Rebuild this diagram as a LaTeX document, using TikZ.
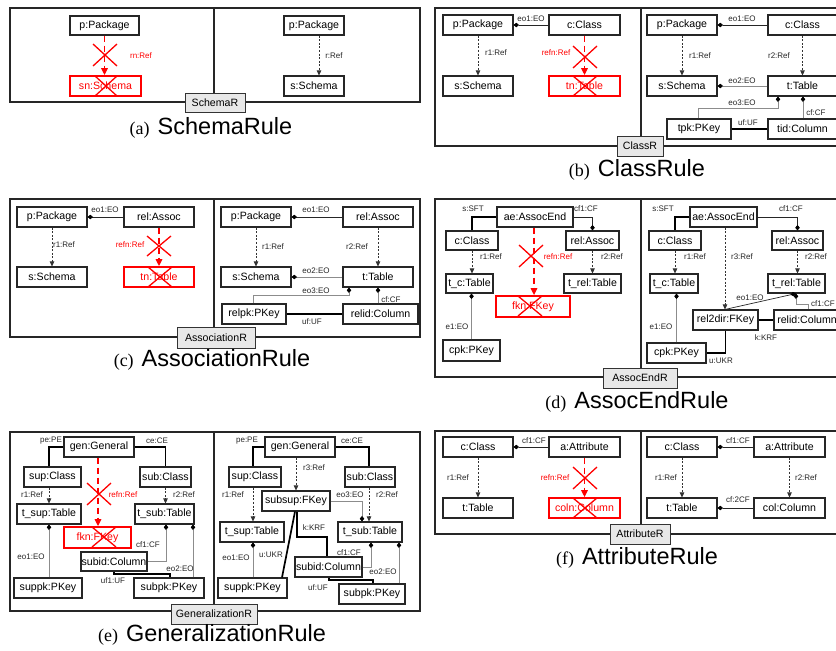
\documentclass[tikz,border=0pt]{standalone}
\usepackage{fontspec}
\setmainfont{Liberation Sans}
\newfontfamily\capserif{Liberation Serif}
\usetikzlibrary{arrows.meta}

\tikzset{
  obj/.style={draw=black!85, line width=1.1pt, fill=white, inner sep=0pt,
    font=\fontsize{10.6}{12}\selectfont},
  delobj/.style={draw=red, line width=1.8pt, text=red},
  lbl/.style={inner sep=0pt, font=\fontsize{8}{9}\selectfont, text=black!85},
  rlbl/.style={lbl, text=red},
  frame/.style={draw=black!85, line width=1.1pt},
  tab/.style={draw=black!80, line width=0.9pt, fill=black!9},
  ref/.style={draw=black!80, line width=0.7pt, dash pattern=on 2pt off 1.6pt,
    -{Triangle[length=5pt,width=4.5pt]}},
  own/.style={draw=black!85, line width=0.7pt,
    -{Diamond[length=5.5pt,width=4.5pt,color=black]}},
  gown/.style={own, draw=black!45},
  heavy/.style={draw=black, line width=1.7pt},
  delref/.style={draw=red, line width=1.5pt, dash pattern=on 6pt off 4pt,
    -{Triangle[length=7pt,width=6.5pt]}},
  xmark/.style={draw=red, line width=1.3pt},
  caption/.style={inner sep=0pt, font=\fontsize{23.5}{27}\selectfont},
}

% object box given by its corners: [style]{name}{x1}{y1}{x2}{y2}{text}
\newcommand\ob[7][]{\node[obj,#1,minimum width={(#5)-(#3)},minimum height={(#6)-(#4)}]
  (#2) at ({((#3)+(#5))/2},{((#4)+(#6))/2}) {#7};}
% connector label
\newcount\labn
\newcommand\lb[4][]{\global\advance\labn by 1\relax
  \node[lbl,#1] (lab\the\labn) at (#2,#3) {#4};}
% red cross: centre x, y, half width, half height
\newcommand\xmk[4]{\draw[xmark] ({#1-#3},{#2-#4}) -- ({#1+#3},{#2+#4})
  ({#1-#3},{#2+#4}) -- ({#1+#3},{#2-#4});}
\newcommand\captxt[2]{{\capserif\fontsize{18}{20}\selectfont (#1)}\hspace{8pt}#2}

\begin{document}
\begin{tikzpicture}[x=1pt,y=-1pt]
\clip (0,0) rectangle (836,651);
\fill[white] (0,0) rectangle (836,651);

% ---------------- (a) SchemaRule ----------------
\draw[frame] (10,8) rectangle (420,102);
\draw[frame] (214,8) -- (214,102);
\ob{ap}{70}{16}{139}{35}{p:Package}
\ob[delobj]{asn}{70}{76}{141}{96}{sn:Schema}
\draw[delref] (ap.south) -- (ap.south |- asn.north);
\xmk{105}{55}{12}{11}
\xmk{106}{86}{11}{10}
\lb[rlbl]{141}{56}{rn:Ref}
\ob{ap2}{284}{16}{344}{35}{p:Package}
\ob{as2}{284}{76}{344}{96}{s:Schema}
\draw[ref] (ap2.south -| 319,0) -- (as2.north -| 319,0);
\lb{334}{56}{r:Ref}
\ob[tab]{tabA}{185}{93}{245}{112}{SchemaR}
\node[caption] (capA) at (211,128) {\captxt{a}{SchemaRule}};

% ---------------- (b) ClassRule ----------------
\draw[frame] (435,8) rectangle (845,146);
\draw[frame] (641,8) -- (641,146);
\ob{bp}{443}{15}{513}{35}{p:Package}
\ob{bc}{549}{15}{620}{35}{c:Class}
\ob{bs}{443}{76}{513}{96}{s:Schema}
\ob[delobj]{bt}{549}{76}{620}{96}{tn:Table}
\draw[own] (bc.west) -- (bp.east);
\lb{531}{19}{eo1:EO}
\draw[ref] (bp.south) -- (bs.north);
\lb{496}{53}{r1:Ref}
\draw[delref] (bc.south) -- (bt.north);
\xmk{585}{57}{12}{11}
\xmk{585}{86}{12}{10}
\lb[rlbl]{556}{53}{refn:Ref}
\ob{bp2}{647}{15}{717}{35}{p:Package}
\ob{bc2}{768}{15}{837}{35}{c:Class}
\ob{bs2}{647}{76}{717}{96}{s:Schema}
\ob{bt2}{768}{76}{837}{96}{t:Table}
\ob{bk}{667}{119}{731}{139}{tpk:PKey}
\ob{bcol}{768}{119}{837}{139}{tid:Column}
\draw[own] (bc2.west) -- (bp2.east);
\lb{742}{19}{eo1:EO}
\draw[ref] (bp2.south) -- (bs2.north);
\lb{700}{56}{r1:Ref}
\draw[ref] (bc2.south) -- (bt2.north);
\lb{779}{56}{r2:Ref}
\draw[gown] (bt2.west) -- (bs2.east);
\lb{742}{81}{eo2:EO}
\draw[gown] (bk.north -| 698,0) |- (778,108) -- (bt2.south -| 778,0);
\lb{742}{103}{eo3:EO}
\draw[gown] (bcol.north -| 803,0) -- (bt2.south -| 803,0);
\lb{816}{113}{cf:CF}
\draw[heavy] (bk.east) -- (bcol.west);
\lb{748}{123}{uf:UF}
\ob[tab]{tabB}{617}{136}{663}{156}{ClassR}
\node[caption] (capB) at (637,170) {\captxt{b}{ClassRule}};

% ---------------- (c) AssociationRule ----------------
\draw[frame] (10,199) rectangle (420,337);
\draw[frame] (214,199) -- (214,337);
\ob{cp}{17}{207}{87}{227}{p:Package}
\ob{cr}{124}{207}{194}{227}{rel:Assoc}
\ob{cs}{17}{267}{87}{287}{s:Schema}
\ob[delobj]{ct}{124}{267}{194}{287}{tn:Table}
\draw[own] (cr.west) -- (cp.east);
\lb{105}{210}{eo1:EO}
\draw[ref] (cp.south) -- (cs.north);
\lb{64}{245}{r1:Ref}
\draw[delref] (cr.south) -- (ct.north);
\xmk{159}{246}{12}{10}
\xmk{160}{277}{12}{10}
\lb[rlbl]{130}{245}{refn:Ref}
\ob{cp2}{221}{207}{291}{227}{p:Package}
\ob{cr2}{343}{207}{413}{227}{rel:Assoc}
\ob{cs2}{221}{267}{291}{287}{s:Schema}
\ob{ct2}{343}{267}{413}{287}{t:Table}
\ob{ck}{222}{304}{286}{324}{relpk:PKey}
\ob{ccol}{343}{304}{418}{324}{relid:Column}
\draw[own] (cr2.west) -- (cp2.east);
\lb{316}{210}{eo1:EO}
\draw[ref] (cp2.south) -- (cs2.north);
\lb{273}{247}{r1:Ref}
\draw[ref] (cr2.south) -- (ct2.north);
\lb{357}{247}{r2:Ref}
\draw[gown] (ct2.west) -- (cs2.east);
\lb{316}{271}{eo2:EO}
\draw[gown] (ck.north -| 253,0) |- (349,295) -- (ct2.south -| 349,0);
\lb{316}{291}{eo3:EO}
\draw[gown] (ccol.north -| 378,0) -- (ct2.south -| 378,0);
\lb{391}{300}{cf:CF}
\draw[heavy] (ck.east) -- (ccol.west);
\lb{312}{322}{uf:UF}
\ob[tab]{tabC}{177}{327}{255}{348}{AssociationR}
\node[caption] (capC) at (212,360) {\captxt{c}{AssociationRule}};

% ---------------- (d) AssocEndRule ----------------
\draw[frame] (435,199) rectangle (845,377);
\draw[frame] (641,199) -- (641,377);
\ob{dae}{497}{207}{573}{227}{ae:AssocEnd}
\ob{dc}{446}{231}{498}{250}{c:Class}
\ob{dr}{566}{231}{619}{250}{rel:Assoc}
\ob{dtc}{446}{274}{493}{293}{t\_c:Table}
\ob{dtr}{564}{274}{621}{293}{t\_rel:Table}
\ob[delobj]{df}{496}{296}{570}{317}{fkn:FKey}
\ob{dk}{443}{340}{500}{361}{cpk:PKey}
\draw[heavy] (dae.west) -| (dc.north);
\lb{473}{209}{s:SFT}
\draw[own] (dae.east) -| (dr.north);
\lb{586}{209}{cf1:CF}
\draw[ref] (dc.south) -- (dc.south |- dtc.north);
\lb{491}{257}{r1:Ref}
\draw[ref] (dr.south) -- (dr.south |- dtr.north);
\lb{612}{257}{r2:Ref}
\draw[delref] (dae.south -| 534,0) -- (df.north -| 534,0);
\xmk{531}{256}{12}{11}
\xmk{530}{306}{12}{10}
\lb[rlbl]{558}{257}{refn:Ref}
\draw[gown] (dk.north) -- (dk.north |- dtc.south);
\lb{457}{327}{e1:EO}
\ob{dae2}{690}{207}{757}{227}{ae:AssocEnd}
\ob{dc2}{649}{231}{701}{250}{c:Class}
\ob{dr2}{772}{231}{823}{250}{rel:Assoc}
\ob{dtc2}{650}{274}{698}{293}{t\_c:Table}
\ob{dtr2}{768}{274}{825}{293}{t\_rel:Table}
\ob{df2}{693}{310}{758}{330}{rel2dir:FKey}
\ob{dcol}{774}{310}{840}{330}{relid:Column}
\ob{dk2}{647}{343}{706}{363}{cpk:PKey}
\draw[heavy] (dae2.west) -| (dc2.north);
\lb{663}{209}{s:SFT}
\draw[own] (dae2.east) -| (dr2.north);
\lb{791}{209}{cf1:CF}
\draw[ref] (dc2.south) -- (dc2.south |- dtc2.north);
\lb{695}{257}{r1:Ref}
\draw[ref] (dr2.south) -- (dr2.south |- dtr2.north);
\lb{816}{257}{r2:Ref}
\draw[ref] (dae2.south -| 725,0) -- (df2.north -| 725,0);
\lb{742}{257}{r3:Ref}
\draw[own] (df2.north -| 725,0) -- (dtr2.south -| 796,0);
\lb{750}{298}{eo1:EO}
\draw[gown] (dcol.north -| 808,0) |- (796,304) -- (dtr2.south -| 796,0);
\lb{823}{304}{cf1:CF}
\draw[heavy] (df2.east) -- (dcol.west);
\lb{766}{338}{k:KRF}
\draw[heavy] (df2.south) |- (dk2.east);
\lb{721}{361}{u:UKR}
\draw[gown] (dk2.north) -- (dk2.north |- dtc2.south);
\lb{661}{327}{e1:EO}
\ob[tab]{tabD}{603}{368}{677}{388}{AssocEndR}
\node[caption] (capD) at (637,402) {\captxt{d}{AssocEndRule}};

% ---------------- (e) GeneralizationRule ----------------
\draw[frame] (10,432) rectangle (420,611);
\draw[frame] (214,432) -- (214,611);
\ob{eg}{64}{437}{134}{457}{gen:General}
\ob{esp}{24}{467}{81}{487}{sup:Class}
\ob{esb}{140}{467}{191}{487}{sub:Class}
\ob{etsp}{17}{504}{81}{524}{t\_sup:Table}
\ob{etsb}{135}{504}{194}{524}{t\_sub:Table}
\ob[delobj]{ef}{64}{527}{131}{548}{fkn:FKey}
\ob{ecol}{81}{552}{147}{571}{subid:Column}
\ob{epk}{14}{578}{82}{598}{suppk:PKey}
\ob{epk2}{134}{578}{204}{598}{subpk:PKey}
\draw[heavy] (eg.west) -| (esp.north -| 49,0);
\lb{51}{441}{pe:PE}
\draw[heavy] (eg.east) -| (esb.north);
\lb{157}{441}{ce:CE}
\draw[ref] (esp.south -| 49,0) -- (etsp.north -| 49,0);
\lb{32}{495}{r1:Ref}
\draw[ref] (esb.south) -- (esb.south |- etsb.north);
\lb{184}{495}{r2:Ref}
\draw[delref] (eg.south -| 98,0) -- (ef.north -| 98,0);
\xmk{99}{494}{12}{11}
\xmk{104}{537}{12}{10}
\lb[rlbl]{123}{495}{refn:Ref}
\draw[gown] (epk.north -| 49,0) -- (etsp.south -| 49,0);
\lb{31}{557}{eo1:EO}
\draw[gown] (ecol.east) -| (etsb.south -| 166,0);
\lb{148}{545}{cf1:CF}
\draw[gown] (epk2.north -| 193,0) -- (etsb.south -| 193,0);
\lb{180}{569}{eo2:EO}
\draw[heavy] (ecol.south -| 114,0) |- (170,574) -- (epk2.north -| 170,0);
\lb{113}{581}{uf1:UF}
\ob{eg2}{265}{437}{335}{457}{gen:General}
\ob{esp2}{229}{467}{281}{487}{sup:Class}
\ob{esb2}{345}{467}{395}{487}{sub:Class}
\ob{ess}{262}{491}{330}{511}{subsup:FKey}
\ob{etsp2}{220}{522}{284}{542}{t\_sup:Table}
\ob{etsb2}{338}{522}{402}{542}{t\_sub:Table}
\ob{ecol2}{295}{557}{362}{577}{subid:Column}
\ob{epk3}{218}{578}{287}{598}{suppk:PKey}
\ob{epk4}{339}{584}{405}{604}{subpk:PKey}
\draw[heavy] (eg2.west) -| (esp2.north -| 253,0);
\lb{247}{441}{pe:PE}
\draw[heavy] (eg2.east) -| (esb2.north -| 369,0);
\lb{352}{441}{ce:CE}
\draw[ref] (eg2.south -| 296,0) -- (ess.north -| 296,0);
\lb{314}{468}{r3:Ref}
\draw[ref] (esp2.south -| 253,0) -- (etsp2.north -| 253,0);
\lb{233}{495}{r1:Ref}
\draw[ref] (esb2.south -| 369,0) -- (etsb2.north -| 369,0);
\lb{387}{495}{r2:Ref}
\draw[gown] (ess.east) -| (etsb2.north -| 362,0);
\lb{350}{495}{eo3:EO}
\draw[heavy] (ess.south -| 297,0) |- (327,537) -- (ecol2.north -| 327,0);
\lb{314}{528}{k:KRF}
\draw[heavy] (ess.south -| 295,0) -- (epk3.north -| 282,0);
\lb{271}{555}{u:UKR}
\draw[gown] (epk3.north -| 253,0) -- (etsp2.south -| 253,0);
\lb{236}{558}{eo1:EO}
\draw[gown] (ecol2.east) -| (etsb2.south -| 371,0);
\lb{349}{553}{cf1:CF}
\draw[gown] (epk4.north -| 399,0) -- (etsb2.south -| 399,0);
\lb{383}{572}{eo2:EO}
\draw[heavy] (ecol2.south -| 329,0) |- (373,580) -- (epk4.north -| 373,0);
\lb{318}{588}{uf:UF}
\ob[tab]{tabE}{171}{604}{257}{624}{GeneralizationR}
\node[caption] (capE) at (212,635) {\captxt{e}{GeneralizationRule}};

% ---------------- (f) AttributeRule ----------------
\draw[frame] (435,431) rectangle (845,534);
\draw[frame] (641,431) -- (641,534);
\ob{fc}{443}{437}{513}{457}{c:Class}
\ob{fa}{549}{437}{620}{457}{a:Attribute}
\ob{ft}{443}{498}{513}{518}{t:Table}
\ob[delobj]{fcol}{549}{498}{620}{518}{coln:Column}
\draw[own] (fa.west) -- (fc.east);
\lb{534}{441}{cf1:CF}
\draw[ref] (fc.south) -- (ft.north);
\lb{458}{478}{r1:Ref}
\draw[delref] (fa.south) -- (fcol.north);
\xmk{585}{478}{12}{11}
\xmk{585}{508}{12}{10}
\lb[rlbl]{555}{478}{refn:Ref}
\ob{fc2}{647}{437}{717}{457}{c:Class}
\ob{fa2}{754}{437}{825}{457}{a:Attribute}
\ob{ft2}{647}{498}{717}{518}{t:Table}
\ob{fcol2}{754}{498}{825}{518}{col:Column}
\draw[own] (fa2.west) -- (fc2.east);
\lb{738}{441}{cf1:CF}
\draw[ref] (fc2.south) -- (ft2.north);
\lb{666}{478}{r1:Ref}
\draw[ref] (fa2.south) -- (fcol2.north);
\lb{806}{478}{r2:Ref}
\draw[own] (fcol2.west) -- (ft2.east);
\lb{738}{500}{cf:2CF}
\ob[tab]{tabF}{610}{524}{670}{544}{AttributeR}
\node[caption] (capF) at (637,558) {\captxt{f}{AttributeRule}};
\end{tikzpicture}
\end{document}
